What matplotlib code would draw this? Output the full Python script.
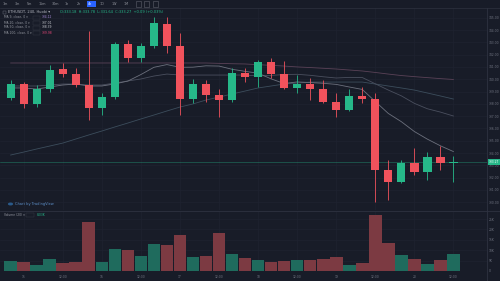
"""
plot.py

ETHUSDT 4h candles (Huobi) with MA 9/20/50/100 and a volume pane,
drawn in a dark TradingView-like style.
"""

import matplotlib
matplotlib.use("Agg")

import matplotlib.pyplot as plt
import matplotlib.transforms as mtransforms
from matplotlib.lines import Line2D
from matplotlib.patches import Circle, Rectangle
import numpy as np


# ============================================================
# Data
# ============================================================

opens = [338.50, 339.59, 337.96, 339.18, 340.81, 340.42, 339.53, 337.68, 338.58, 342.84,
         341.70, 342.70, 344.49, 342.73, 338.42, 339.61, 338.72, 338.31, 340.53, 340.16,
         341.42, 340.42, 339.26, 339.61, 339.18, 338.12, 337.50, 338.64, 338.37, 332.62,
         331.67, 333.21, 332.43, 333.65, 333.18]
highs = [339.94, 339.80, 339.53, 341.16, 341.29, 340.89, 343.94, 338.86, 343.05, 343.19,
         342.97, 345.03, 345.03, 343.73, 339.99, 339.94, 339.18, 340.89, 340.89, 341.56,
         341.73, 341.50, 340.34, 340.07, 339.94, 338.86, 339.18, 339.34, 338.86, 333.43,
         333.43, 334.38, 334.11, 334.57, 333.78]
lows = [338.31, 337.64, 337.77, 338.99, 340.20, 339.34, 336.68, 337.09, 338.37, 341.42,
        341.42, 342.51, 342.11, 337.09, 338.04, 338.17, 336.95, 338.17, 339.80, 339.39,
        340.07, 339.20, 338.86, 338.31, 338.04, 336.95, 337.44, 338.04, 330.04, 330.18,
        331.60, 332.21, 331.81, 332.62, 331.64]
closes = [339.61, 337.96, 339.18, 340.75, 340.42, 339.53, 337.68, 338.58, 342.84, 341.70,
          342.70, 344.55, 342.73, 338.42, 339.61, 338.72, 338.31, 340.53, 340.16, 341.42,
          340.42, 339.26, 339.61, 339.18, 338.12, 337.50, 338.64, 338.37, 332.62, 331.67,
          333.21, 332.43, 333.65, 333.16, 333.27]
volumes = [4660, 4180, 2740, 5960, 3700, 4330, 23560, 4330, 10430, 9950,
           7070, 12840, 12360, 17500, 6730, 7070, 18270, 8370, 6440, 5140,
           4330, 4810, 5480, 5140, 5630, 6920, 2740, 4040, 26780, 13460,
           7550, 5630, 3560, 5480, 8030]

ma9 = [339.29, 339.29, 339.20, 339.37, 339.53, 339.61, 339.45, 339.45, 339.62, 339.85,
       340.38, 340.97, 341.19, 340.97, 340.98, 341.09, 341.07, 340.81, 340.64, 340.49,
       340.03, 339.65, 339.78, 339.73, 339.67, 339.58, 339.37, 339.17, 338.19, 337.22,
       336.55, 335.75, 335.13, 334.59, 334.12]
ma20 = [339.45, 339.45, 339.45, 339.53, 339.61, 339.61, 339.53, 339.53, 339.69, 339.86,
        340.02, 340.26, 340.42, 340.34, 340.34, 340.34, 340.34, 340.34, 340.34, 340.27,
        340.31, 340.38, 340.40, 340.32, 340.20, 340.10, 340.15, 340.14, 339.63, 339.12,
        338.65, 338.04, 337.60, 337.33, 337.01]
ma50 = [333.84, 334.08, 334.33, 334.57, 334.81, 335.14, 335.47, 335.79, 336.12, 336.44,
        336.77, 337.09, 337.42, 337.74, 337.99, 338.31, 338.55, 338.80, 339.04, 339.29,
        339.45, 339.61, 339.69, 339.77, 339.77, 339.77, 339.77, 339.77, 339.61, 339.45,
        339.29, 339.12, 338.88, 338.64, 338.39]
ma100 = [341.32, 341.32, 341.32, 341.32, 341.32, 341.32, 341.32, 341.32, 341.32, 341.32,
         341.32, 341.32, 341.32, 341.32, 341.32, 341.32, 341.29, 341.26, 341.24, 341.18,
         341.13, 341.07, 341.00, 340.95, 340.89, 340.83, 340.75, 340.67, 340.55, 340.42,
         340.30, 340.21, 340.13, 340.05, 339.98]

time_tick_idx = [1, 4, 7, 10, 13, 16, 19, 22, 25, 28, 31, 34]
time_tick_labels = ["15", "12:00", "16", "12:00", "17", "12:00",
                    "18", "12:00", "19", "12:00", "20", "12:00"]

price_ticks = [330, 331, 332, 333, 334, 335, 336, 337, 338, 339,
               340, 341, 342, 343, 344, 345]
volume_ticks = [0, 5000, 10000, 15000, 20000, 25000]
volume_tick_labels = ["0", "5K", "10K", "15K", "20K", "25K"]

toolbar_items = ["1m", "3m", "5m", "15m", "30m", "1h", "2h", "4h", "1D", "1W", "1M"]
active_item = "4h"

symbol_title = "ETHUSDT, 240, Huobi"
ohlc_text = "O:333.18  H:333.78  L:331.64  C:333.27  +0.09 (+0.03%)"
ma_names = ["MA 9, close, 0", "MA 20, close, 0", "MA 50, close, 0", "MA 100, close, 0"]
ma_values = ["334.12", "337.01", "338.39", "339.98"]
volume_title = "Volume (20)"
volume_value = "8.03K"


# ============================================================
# Style
# ============================================================

BG = "#181c28"
GRID = "#1e2230"
SEP = "#2e3240"
TEXT = "#6f7380"
UP = "#26b889"
DOWN = "#f0525c"
VOL_UP = "#1f6b5d"
VOL_DOWN = "#7c3a42"
MA_COLORS = ["#6c707d", "#4a4f5e", "#3c4d5c", "#5a4257"]
MA_VALUE_COLORS = ["#a58ad6", "#c9cbd1", "#c9cbd1", "#e8497a"]

W, H = 500, 281
AXIS_X = 487
PRICE_TOP, PRICE_BOTTOM = 8, 210
VOL_TOP, VOL_BOTTOM = 211, 271
FS_AXIS = 2.2

plt.rcParams["font.family"] = ["DejaVu Sans"]


def fx(px: float) -> float:
    return px / W


def fy(py: float) -> float:
    return 1 - py / H


def draw_candles(ax) -> None:
    x = np.arange(len(closes))
    o = np.array(opens)
    c = np.array(closes)
    up = c >= o
    colors = np.where(up, UP, DOWN)

    ax.vlines(x, lows, highs, colors=colors, linewidth=0.6, zorder=3)

    bottom = np.minimum(o, c)
    height = np.maximum(np.abs(c - o), 0.06)
    ax.bar(x, height, bottom=bottom, width=0.64, color=colors, linewidth=0, zorder=4)


def main() -> None:
    fig = plt.figure(figsize=(W / 100, H / 100), dpi=100, facecolor=BG)

    ax_p = fig.add_axes([0, fy(PRICE_BOTTOM), fx(AXIS_X),
                         (PRICE_BOTTOM - PRICE_TOP) / H], facecolor=BG)
    ax_v = fig.add_axes([0, fy(VOL_BOTTOM), fx(AXIS_X),
                         (VOL_BOTTOM - VOL_TOP) / H], facecolor=BG, sharex=ax_p)

    n = len(closes)
    x = np.arange(n)

    # ---------------- price pane ----------------
    for ma, col in zip([ma100, ma50, ma20, ma9], MA_COLORS[::-1]):
        ax_p.plot(x, ma, color=col, linewidth=0.6, zorder=2)

    draw_candles(ax_p)

    last = closes[-1]
    ax_p.axhline(last, color=UP, linewidth=0.4, alpha=0.6, zorder=1)

    ax_p.set_xlim(-0.82, 36.58)
    ax_p.set_ylim(329.37, 345.79)

    ax_p.set_yticks(price_ticks)
    ax_p.set_yticklabels([f"{p:.2f}" for p in price_ticks])
    ax_p.yaxis.tick_right()
    ax_p.tick_params(axis="y", length=0, labelsize=FS_AXIS, colors=TEXT, pad=1.5)
    ax_p.tick_params(axis="x", length=0, labelbottom=False)
    ax_p.set_xticks(time_tick_idx)
    ax_p.grid(True, color=GRID, linewidth=0.5)

    trans = mtransforms.blended_transform_factory(ax_p.transAxes, ax_p.transData)
    ax_p.text(1.003, last, f"{last:.2f}", transform=trans, fontsize=FS_AXIS,
              color="white", va="center", ha="left",
              bbox=dict(boxstyle="square,pad=0.3", fc=UP, ec="none"), zorder=10,
              clip_on=False)

    # ---------------- volume pane ----------------
    vcolors = [VOL_UP if c >= o else VOL_DOWN for o, c in zip(opens, closes)]
    ax_v.bar(x, volumes, width=0.97, color=vcolors, linewidth=0)
    ax_v.set_ylim(0, 28850)
    ax_v.set_yticks(volume_ticks)
    ax_v.set_yticklabels(volume_tick_labels)
    ax_v.yaxis.tick_right()
    ax_v.tick_params(axis="y", length=0, labelsize=FS_AXIS, colors=TEXT, pad=1.5)
    ax_v.set_xticks(time_tick_idx)
    ax_v.set_xticklabels(time_tick_labels)
    ax_v.tick_params(axis="x", length=0, labelsize=FS_AXIS, colors=TEXT, pad=3)
    ax_v.grid(True, color=GRID, linewidth=0.5)

    for ax in (ax_p, ax_v):
        for s in ax.spines.values():
            s.set_visible(False)
        ax.set_axisbelow(True)

    # ---------------- separators ----------------
    fig.add_artist(Line2D([fx(AXIS_X), fx(AXIS_X)], [0, fy(PRICE_TOP)],
                          color=SEP, linewidth=0.6))
    fig.add_artist(Line2D([0, 1], [fy(210.5), fy(210.5)], color=SEP, linewidth=0.6))
    fig.add_artist(Line2D([0, 1], [fy(PRICE_TOP), fy(PRICE_TOP)], color=SEP, linewidth=0.5))

    # ---------------- toolbar ----------------
    tx = 3
    for item in toolbar_items:
        w = 5 + 1.6 * len(item)
        if item == active_item:
            fig.add_artist(Rectangle((fx(tx - 1.5), fy(6.5)), fx(w + 1), 5 / H,
                                     fc="#2962ff", ec="none"))
        fig.text(fx(tx), fy(4), item, fontsize=2.4,
                 color="#9598a1" if item != active_item else "white",
                 va="center", ha="left")
        tx += w + 3.5
    for k in range(3):
        fig.add_artist(Rectangle((fx(tx + 1 + 8.5 * k), fy(6.5)), fx(5), 5 / H,
                                 fc="none", ec="#5d606b", linewidth=0.4))

    # ---------------- legend ----------------
    fig.add_artist(Rectangle((fx(3), fy(13.5)), fx(3), 3 / H, fc="none", ec=TEXT, linewidth=0.3))
    fig.text(fx(8), fy(12), symbol_title + " ▾", fontsize=2.6, color="#b2b5be", va="center")
    fig.text(fx(60), fy(12), ohlc_text, fontsize=2.6, color=UP, va="center")

    for k, (name, val) in enumerate(zip(ma_names, ma_values)):
        y = 17.5 + 5 * k
        fig.text(fx(4), fy(y), name + " ▾", fontsize=2.2, color="#9598a1", va="center")
        fig.add_artist(Rectangle((fx(33), fy(y + 2)), fx(7), 4 / H, fc="none",
                                 ec="#363a45", linewidth=0.3))
        fig.text(fx(42), fy(y), val, fontsize=2.2, color=MA_VALUE_COLORS[k], va="center")

    # watermark
    fig.add_artist(Circle((fx(10.5), fy(204)), 2.6 / W, fc="#2a5a8a", ec="none",
                          transform=fig.transFigure))
    fig.text(fx(15), fy(204), "Chart by TradingView", fontsize=2.6, color="#5d8fc8", va="center")

    # volume legend
    fig.text(fx(4), fy(215), volume_title + " ▾", fontsize=2.2, color="#9598a1", va="center")
    fig.add_artist(Rectangle((fx(26), fy(217)), fx(8), 4 / H, fc="none", ec="#363a45", linewidth=0.3))
    fig.text(fx(37), fy(215), volume_value, fontsize=2.2, color=UP, va="center")

    fig.savefig("out.png", dpi=100, facecolor=BG)
    plt.close(fig)


if __name__ == "__main__":
    main()
